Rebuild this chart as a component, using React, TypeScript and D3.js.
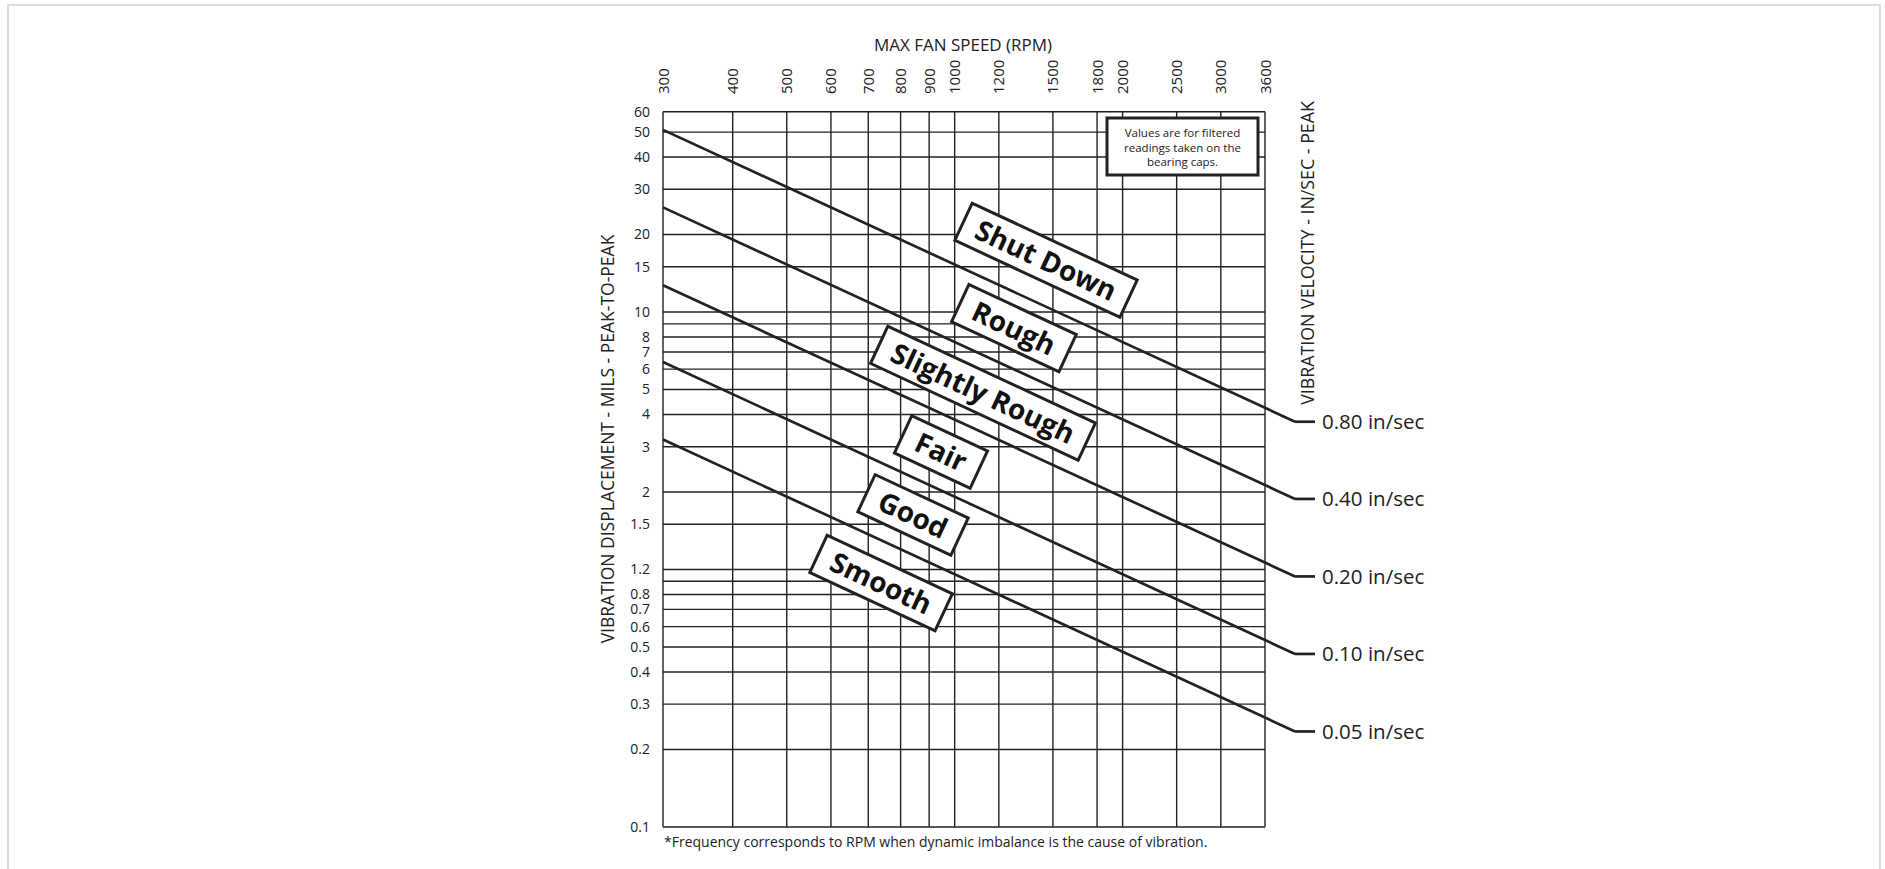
import React from 'react';
import * as d3 from 'd3';

// ---- data ----
const rpmTicks = [300, 400, 500, 600, 700, 800, 900, 1000, 1200, 1500, 1800, 2000, 2500, 3000, 3600];
const milsGrid = [0.1, 0.2, 0.3, 0.4, 0.5, 0.6, 0.7, 0.8, 0.9, 1, 1.5, 2, 3, 4, 5, 6, 7, 8, 9, 10, 15, 20, 30, 40, 50, 60];
const milsLabels = ['0.1', '0.2', '0.3', '0.4', '0.5', '0.6', '0.7', '0.8', '', '1.2', '1.5', '2', '3', '4', '5', '6', '7', '8', '', '10', '15', '20', '30', '40', '50', '60'];

const velocityNames = ['0.80 in/sec', '0.40 in/sec', '0.20 in/sec', '0.10 in/sec', '0.05 in/sec'];
const lineStartRpm = 300;
const lineEndRpm = 4075;
const milsAtStart = [51, 25.5, 12.7, 6.4, 3.2];
const milsAtEnd = [3.75, 1.88, 0.94, 0.47, 0.235];

const zoneNames = ['Shut Down', 'Rough', 'Slightly Rough', 'Fair', 'Good', 'Smooth'];
const zoneRpm = [1458, 1277, 1124, 945, 842, 738];
const zoneMils = [15.9, 8.66, 4.84, 2.86, 1.63, 0.886];

const noteLines = ['Values are for filtered', 'readings taken on the', 'bearing caps.'];

// ---- layout ----
const W = 1885, H = 869;
const L = 663, R = 1265, T = 111.7, B = 827;
const FONT = "'Open Sans', 'Noto Sans', sans-serif";
const INK = '#222';

function measure(text: string, font: string): number {
  const c = document.createElement('canvas');
  const ctx = c.getContext('2d');
  if (!ctx) return text.length * 14;
  ctx.font = font;
  return ctx.measureText(text).width;
}

export default function App() {
  const x = d3.scaleLog().domain([300, 3600]).range([L, R]);
  const y = d3.scaleLog().domain([0.1, 60]).range([B, T]);
  const line = d3.line<[number, number]>().x(d => x(d[0])).y(d => y(d[1]));
  const zoneFontSize = 28;
  const zoneFont = `700 ${zoneFontSize}px 'Open Sans'`;
  const angle = 25;

  return (
    <svg width={W} height={H} style={{ position: 'absolute', left: 0, top: 0 }} fontFamily={FONT}>
      <rect x={8} y={5} width={1872} height={900} fill="#fff" stroke="#dcdcdc" strokeWidth={2} />

      {/* vertical grid */}
      {rpmTicks.map(v => (
        <line key={'vx' + v} x1={x(v)} x2={x(v)} y1={T} y2={B} stroke={INK} strokeWidth={1.4} />
      ))}
      {/* horizontal grid */}
      {milsGrid.map(v => (
        <line key={'hy' + v} x1={L} x2={R} y1={y(v)} y2={y(v)} stroke={INK} strokeWidth={1.4} />
      ))}

      {/* x tick labels */}
      {rpmTicks.map(v => (
        <text key={'xt' + v} transform={`translate(${x(v) + 5.5},94) rotate(-90)`} fontSize={15} fill={INK} textAnchor="start">{v}</text>
      ))}
      {/* y tick labels */}
      {milsGrid.map((v, i) => (
        <text key={'yt' + v} x={650} y={y(v)} dy="0.35em" fontSize={14} fill={INK} textAnchor="end">{milsLabels[i]}</text>
      ))}

      {/* titles */}
      <text x={963} y={51} fontSize={17} textAnchor="middle" fill={INK}>MAX FAN SPEED (RPM)</text>
      <text transform="translate(614,439) rotate(-90)" fontSize={17.5} textAnchor="middle" fill={INK}>VIBRATION DISPLACEMENT - MILS - PEAK-TO-PEAK</text>
      <text transform="translate(1314,253) rotate(-90)" fontSize={17.8} textAnchor="middle" fill={INK}>VIBRATION VELOCITY - IN/SEC - PEAK</text>
      <text x={664} y={847} fontSize={14} fill={INK}>*Frequency corresponds to RPM when dynamic imbalance is the cause of vibration.</text>

      {/* velocity lines */}
      {velocityNames.map((name, i) => {
        const pts: [number, number][] = [[lineStartRpm, milsAtStart[i]], [lineEndRpm, milsAtEnd[i]]];
        const ex = x(lineEndRpm), ey = y(milsAtEnd[i]);
        return (
          <g key={'vl' + name}>
            <path d={line(pts) || ''} fill="none" stroke={INK} strokeWidth={2.7} />
            <line x1={ex} x2={ex + 20} y1={ey} y2={ey} stroke={INK} strokeWidth={2.7} />
            <text x={ex + 27} y={ey} dy="0.35em" fontSize={20.5} fill={INK}>{name}</text>
          </g>
        );
      })}

      {/* note box */}
      <rect x={1107} y={118} width={151} height={57} fill="#fff" stroke={INK} strokeWidth={3} />
      {noteLines.map((t, i) => (
        <text key={'n' + i} x={1182.5} y={133 + i * 14.5} dy="0.35em" fontSize={11.5} textAnchor="middle" fill={INK}>{t}</text>
      ))}

      {/* zone labels */}
      {zoneNames.map((name, i) => {
        const cx = x(zoneRpm[i]), cy = y(zoneMils[i]);
        const tw = measure(name, zoneFont);
        const bw = tw + 30, bh = 41;
        return (
          <g key={'z' + name} transform={`translate(${cx},${cy}) rotate(${angle})`}>
            <rect x={-bw / 2} y={-bh / 2} width={bw} height={bh} fill="#fff" stroke={INK} strokeWidth={3} />
            <text x={0} y={0} dy="0.36em" fontSize={zoneFontSize} fontWeight={700} textAnchor="middle" fill="#111">{name}</text>
          </g>
        );
      })}
    </svg>
  );
}
